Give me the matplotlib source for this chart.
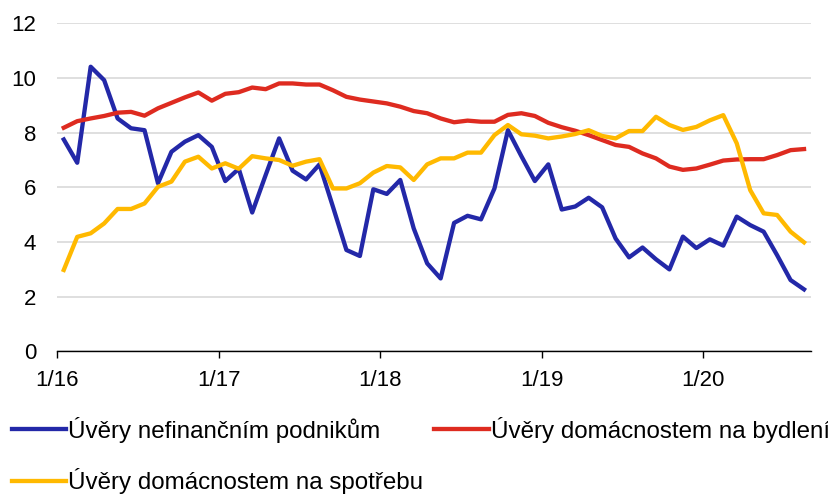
import matplotlib
matplotlib.use("Agg")
import matplotlib.pyplot as plt
import numpy as np

plt.rcParams['font.family'] = ['Liberation Sans', 'DejaVu Sans']

tick_labels = ["1/16", "1/17", "1/18", "1/19", "1/20"]

podniky = [7.75, 6.90, 10.41, 9.92, 8.52, 8.16, 8.09, 6.15, 7.30, 7.67,
           7.91, 7.48, 6.23, 6.68, 5.08, 6.45, 7.79, 6.61, 6.29, 6.84,
           5.29, 3.71, 3.49, 5.93, 5.76, 6.27, 4.50, 3.22, 2.67, 4.70,
           4.96, 4.83, 5.96, 8.09, 7.14, 6.23, 6.84, 5.19, 5.30, 5.62,
           5.27, 4.13, 3.44, 3.80, 3.37, 3.00, 4.20, 3.78, 4.10, 3.87,
           4.93, 4.62, 4.38, 3.52, 2.61, 2.27]

bydleni = [8.18, 8.42, 8.52, 8.61, 8.73, 8.76, 8.62, 8.89, 9.09, 9.29,
           9.47, 9.17, 9.42, 9.48, 9.65, 9.59, 9.80, 9.80, 9.76, 9.76,
           9.55, 9.31, 9.21, 9.14, 9.07, 8.95, 8.79, 8.71, 8.52, 8.38,
           8.44, 8.40, 8.40, 8.65, 8.71, 8.61, 8.36, 8.20, 8.07, 7.91,
           7.73, 7.55, 7.48, 7.24, 7.06, 6.76, 6.64, 6.69, 6.83, 6.98,
           7.02, 7.03, 7.03, 7.18, 7.36, 7.40]

spotreba = [2.98, 4.19, 4.32, 4.68, 5.21, 5.21, 5.41, 6.02, 6.21, 6.94,
            7.12, 6.69, 6.88, 6.68, 7.14, 7.06, 7.00, 6.79, 6.94, 7.03,
            5.96, 5.96, 6.15, 6.54, 6.78, 6.73, 6.27, 6.84, 7.06, 7.06,
            7.27, 7.27, 7.91, 8.28, 7.94, 7.89, 7.79, 7.86, 7.95, 8.09,
            7.88, 7.79, 8.06, 8.06, 8.58, 8.28, 8.10, 8.21, 8.45, 8.64,
            7.61, 5.90, 5.05, 4.99, 4.38, 3.99]

labels = ["Úvěry nefinančním podnikům", "Úvěry domácnostem na bydlení",
          "Úvěry domácnostem na spotřebu"]
colors = ["#2328A8", "#DE2B20", "#FFB900"]

n = len(podniky)
x = np.arange(n) + 0.5

fig = plt.figure(figsize=(8.29, 4.95), dpi=100)
ax = fig.add_axes([0.0688, 0.290, 0.9092, 0.663])

l1, = ax.plot(x, podniky, color=colors[0], lw=3.1, solid_joinstyle='round')
l2, = ax.plot(x, bydleni, color=colors[1], lw=3.1, solid_joinstyle='round')
l3, = ax.plot(x, spotreba, color=colors[2], lw=3.1, solid_joinstyle='round')

ax.set_xlim(0, n)
ax.set_ylim(0, 12)
ax.set_yticks(np.arange(0, 13, 2))
ax.set_xticks(np.arange(len(tick_labels)) * 12)
ax.set_xticklabels(tick_labels)
ax.yaxis.grid(True, color="#D9D9D9", lw=1.2)
ax.set_axisbelow(True)
for s in ["left", "right", "top"]:
    ax.spines[s].set_visible(False)
ax.spines["bottom"].set_color("black")
ax.spines["bottom"].set_linewidth(1.0)
ax.tick_params(axis="y", length=0, pad=15, labelsize=16)
ax.tick_params(axis="x", length=5, width=1, pad=8, labelsize=16, direction="out")

fig.legend([l1, l3, l2], [labels[0], labels[2], labels[1]], ncol=2,
           loc="upper left", bbox_to_anchor=(0.014, 0.158), frameon=False,
           fontsize=17.4, handlelength=2.25, handletextpad=0.1,
           columnspacing=0.45, labelspacing=1.05, borderaxespad=0, borderpad=0)

fig.savefig("out.png", dpi=100)
